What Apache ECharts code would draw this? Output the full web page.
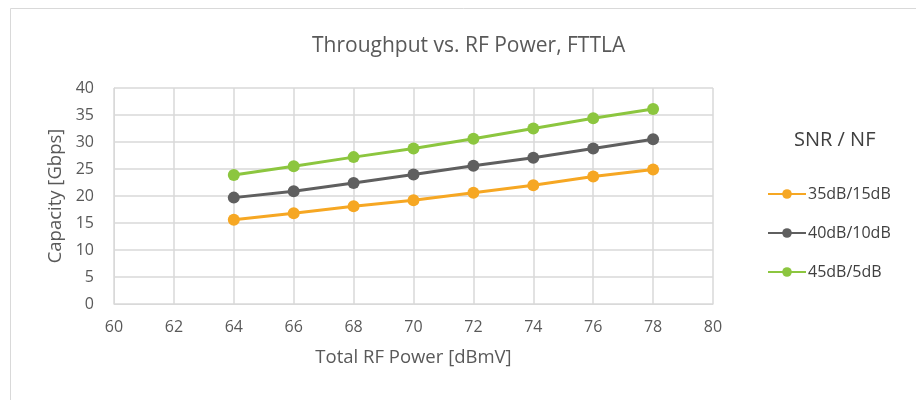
<!DOCTYPE html>
<html>
<head>
<meta charset="utf-8">
<script src="https://cdn.jsdelivr.net/npm/echarts@6/dist/echarts.min.js"></script>
<style>
  html, body { margin: 0; padding: 0; background: #fff; }
  #chart { width: 916px; height: 400px; }
</style>
</head>
<body>
<div id="chart"></div>
<script>
// x axis: total RF power (dBmV)
var rfPower = [64, 66, 68, 70, 72, 74, 76, 78];
// capacity in Gbps per SNR / NF setting
var snr35 = [15.6, 16.8, 18.1, 19.2, 20.6, 22.0, 23.6, 24.9];
var snr40 = [19.7, 20.9, 22.4, 24.0, 25.6, 27.1, 28.8, 30.5];
var snr45 = [23.9, 25.5, 27.2, 28.8, 30.6, 32.5, 34.4, 36.1];
var seriesNames = ['35dB/15dB', '40dB/10dB', '45dB/5dB'];

var font = 'Open Sans';
var grey = '#595959';

function pairs(vals) {
  return rfPower.map(function (x, i) { return [x, vals[i]]; });
}

function line(name, vals, color) {
  return {
    name: name,
    type: 'line',
    data: pairs(vals),
    symbol: 'circle',
    symbolSize: 12,
    lineStyle: { color: color, width: 3 },
    itemStyle: { color: color },
    emphasis: { disabled: true }
  };
}

var chart = echarts.init(document.getElementById('chart'));
chart.setOption({
  animation: false,
  title: {
    text: 'Throughput vs. RF Power, FTTLA',
    left: 307,
    top: 31,
    textStyle: { fontFamily: font, fontSize: 21, fontWeight: 'normal', color: grey }
  },
  graphic: [{
    type: 'rect',
    shape: { x: 10.5, y: 8.5, width: 920, height: 420 },
    style: { fill: 'none', stroke: '#d9d9d9', lineWidth: 1 }
  }, {
    type: 'text',
    left: 794,
    top: 130,
    style: { text: 'SNR / NF', fontFamily: font, fontSize: 20, fill: '#404040' }
  }],
  legend: {
    orient: 'vertical',
    left: 762,
    top: 181,
    itemGap: 23,
    itemWidth: 38,
    itemHeight: 12,
    data: seriesNames,
    textStyle: { fontFamily: font, fontSize: 16, color: '#404040', padding: [0, 0, 0, -3] }
  },
  grid: { left: 114, right: 203, top: 88, height: 216 },
  xAxis: {
    type: 'value',
    min: 60,
    max: 80,
    interval: 2,
    name: 'Total RF Power [dBmV]',
    nameLocation: 'middle',
    nameGap: 44,
    nameTextStyle: { fontFamily: font, fontSize: 18.5, color: grey },
    axisLine: { lineStyle: { color: '#d9d9d9' } },
    axisTick: { show: false },
    axisLabel: { fontFamily: font, fontSize: 16, color: grey, margin: 15 },
    splitLine: { lineStyle: { color: '#d9d9d9', width: 1.5 } }
  },
  yAxis: {
    type: 'value',
    min: 0,
    max: 40,
    interval: 5,
    name: 'Capacity [Gbps]',
    nameLocation: 'middle',
    nameGap: 42,
    nameTextStyle: { fontFamily: font, fontSize: 18.5, color: grey },
    axisLine: { show: true, lineStyle: { color: '#d9d9d9' } },
    axisTick: { show: false },
    axisLabel: { fontFamily: font, fontSize: 16, color: grey, margin: 20 },
    splitLine: { lineStyle: { color: '#d9d9d9', width: 1.5 } }
  },
  series: [
    line(seriesNames[0], snr35, '#f6a723'),
    line(seriesNames[1], snr40, '#5f5f5f'),
    line(seriesNames[2], snr45, '#8cc63f')
  ]
});
</script>
</body>
</html>
